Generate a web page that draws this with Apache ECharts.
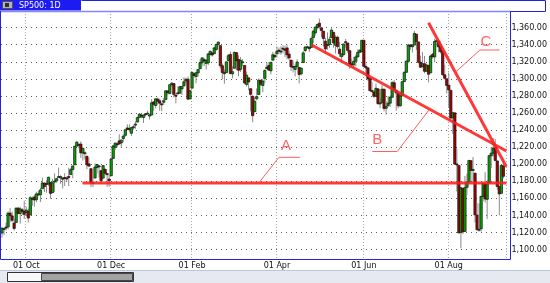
<!DOCTYPE html>
<html><head><meta charset="utf-8">
<script src="https://cdn.jsdelivr.net/npm/echarts@6/dist/echarts.min.js"></script>
<style>html,body{margin:0;padding:0;background:#fff}#c{width:550px;height:283px}</style>
</head><body><div id="c"></div>
<script>
// ---- data (daily bars) ----
const opens = [
1119.4,1123.9,1126.4,1126.6,1142.8,1139.5,1131.1,1131.7,1148.6,1142.3,
1146.7,1145.0,1143.5,1144.9,1140.7,1159.8,1161.6,1158.4,1165.3,1164.3,
1171.3,1177.8,1177.5,1176.8,1178.6,1166.7,1179.8,1180.5,1184.7,1184.0,
1183.8,1184.5,1183.9,1185.7,1187.9,1193.8,1199.3,1221.2,1223.2,1223.6,
1213.1,1213.0,1209.1,1200.4,1194.8,1178.3,1183.8,1196.1,1198.1,1192.5,
1183.7,1194.2,1189.1,1182.6,1186.6,1206.8,1219.9,1223.9,1227.3,1225.0,
1230.1,1233.9,1242.5,1241.8,1236.3,1243.6,1245.8,1249.4,1254.9,1257.5,
1254.7,1259.1,1258.8,1256.8,1257.6,1272.9,1268.8,1276.3,1274.4,1270.8,
1272.6,1275.7,1285.8,1282.9,1293.2,1294.5,1280.9,1283.6,1283.3,1288.2,
1291.9,1297.5,1299.6,1276.5,1289.1,1305.9,1302.8,1307.0,1311.9,1318.8,
1322.5,1318.1,1318.7,1328.7,1330.4,1329.5,1334.4,1340.4,1338.9,1315.4,
1307.3,1307.3,1321.6,1328.6,1305.9,1312.4,1330.7,1322.7,1311.1,1319.9,
1315.7,1293.4,1301.2,1288.5,1279.5,1261.6,1276.7,1281.7,1298.3,1292.2,
1300.6,1311.8,1315.5,1309.4,1321.9,1327.4,1329.5,1333.6,1332.0,1335.9,
1334.8,1336.2,1329.0,1322.0,1314.0,1311.1,1314.5,1313.4,1306.0,1319.1,
1333.2,1337.4,1337.1,1336.8,1348.4,1353.9,1360.1,1365.2,1359.8,1355.9,
1344.2,1340.2,1340.2,1348.3,1354.5,1339.4,1348.7,1334.8,1326.1,1328.5,
1342.4,1342.0,1333.1,1317.7,1316.4,1320.6,1325.7,1331.1,1331.7,1345.2,
1314.6,1312.9,1300.3,1286.3,1284.6,1279.6,1288.3,1271.3,1272.2,1287.9,
1265.5,1268.6,1271.5,1278.4,1295.5,1286.6,1283.0,1268.4,1280.2,1296.9,
1307.6,1320.6,1339.6,1337.6,1339.6,1352.4,1343.3,1319.6,1314.5,1317.7,
1308.9,1315.9,1307.1,1328.7,1325.7,1343.8,1344.3,1337.4,1331.9,1304.8,
1300.1,1292.6,1286.6,1254.3,1260.2,1200.3,1198.5,1120.2,1171.8,1121.3,
1172.9,1178.9,1204.2,1192.9,1189.6,1140.5,1123.6,1124.4,1162.2,1176.7,
1158.9,1177.9,1209.8,1213.0,1219.1,1203.9,1174.0,1165.9,1198.0
];
const closes = [
1125.1,1124.7,1125.6,1142.7,1139.8,1134.3,1124.8,1148.7,1142.2,1147.7,
1144.7,1141.2,1146.2,1137.0,1160.8,1160.0,1158.1,1165.2,1165.3,1169.8,
1178.1,1173.8,1176.2,1184.7,1165.9,1178.2,1180.3,1183.1,1185.6,1185.6,
1182.5,1183.8,1183.3,1184.4,1193.6,1198.0,1221.1,1225.9,1223.3,1213.4,
1218.7,1213.5,1199.2,1197.8,1178.3,1178.6,1196.7,1199.7,1197.8,1180.7,
1198.4,1189.4,1187.8,1180.6,1206.1,1221.5,1224.7,1223.1,1223.8,1228.3,
1233.0,1240.4,1240.5,1241.6,1242.9,1243.9,1247.1,1254.6,1258.8,1256.8,
1257.5,1258.5,1259.8,1257.6,1271.9,1270.2,1276.6,1273.9,1271.5,1269.8,
1274.5,1286.0,1283.8,1293.2,1295.0,1281.9,1280.3,1283.4,1290.8,1291.2,
1296.6,1299.5,1276.3,1286.1,1307.6,1304.0,1307.1,1310.9,1319.0,1324.6,
1320.9,1321.9,1329.2,1332.3,1328.0,1336.3,1340.4,1343.0,1315.4,1307.4,
1306.1,1319.9,1327.2,1306.3,1308.4,1331.0,1321.2,1310.1,1321.8,1320.0,
1295.1,1304.3,1296.4,1281.9,1256.9,1273.7,1279.2,1298.4,1293.8,1297.5,
1309.7,1313.8,1310.2,1319.4,1328.3,1325.8,1332.4,1332.9,1332.6,1335.5,
1333.5,1328.2,1324.5,1314.2,1314.5,1314.5,1319.7,1305.1,1312.6,1330.4,
1337.4,1337.6,1335.3,1347.2,1355.7,1360.5,1363.6,1361.2,1356.6,1347.3,
1335.1,1340.2,1346.3,1357.2,1342.1,1348.7,1337.8,1329.5,1329.0,1340.7,
1343.6,1333.3,1317.4,1316.3,1320.5,1325.7,1331.1,1333.5,1345.2,1314.6,
1312.9,1300.2,1286.2,1284.9,1279.6,1289.0,1271.0,1271.8,1287.9,1265.4,
1267.6,1271.5,1278.4,1295.5,1287.1,1283.5,1268.5,1280.1,1296.7,1307.4,
1320.6,1339.7,1337.9,1339.2,1353.2,1343.8,1319.5,1313.6,1317.7,1308.9,
1316.1,1305.4,1326.7,1325.8,1343.8,1345.0,1337.4,1331.9,1304.9,1300.7,
1292.3,1287.0,1254.0,1260.3,1200.1,1199.4,1119.5,1172.5,1120.8,1172.6,
1178.8,1204.5,1192.8,1193.9,1140.7,1123.5,1123.8,1162.4,1177.6,1159.3,
1176.8,1210.1,1212.9,1218.9,1204.4,1174.0,1165.2,1198.6,1185.9
];
const lows = [
1113.9,1117.0,1122.3,1123.9,1131.9,1131.9,1122.4,1131.7,1142.1,1130.5,
1140.8,1136.2,1139.2,1131.9,1140.7,1151.4,1150.3,1155.6,1162.6,1155.7,
1171.3,1167.5,1166.7,1174.9,1159.7,1166.7,1167.7,1178.3,1184.7,1177.1,
1171.7,1174.5,1179.7,1174.5,1187.9,1183.6,1199.3,1221.2,1218.4,1207.4,
1204.3,1205.7,1194.1,1197.2,1173.0,1173.2,1183.8,1189.0,1184.5,1176.9,
1183.7,1186.9,1173.6,1173.6,1186.6,1206.8,1216.8,1220.0,1223.0,1219.5,
1225.7,1232.3,1240.3,1238.0,1232.9,1240.5,1241.5,1249.4,1254.0,1253.9,
1248.3,1256.2,1258.8,1252.3,1257.6,1262.7,1265.4,1270.0,1262.7,1262.2,
1269.6,1275.7,1280.6,1282.0,1290.3,1278.2,1271.3,1282.1,1282.9,1281.1,
1291.0,1294.3,1275.0,1276.5,1289.1,1301.1,1294.8,1302.6,1311.9,1314.6,
1314.8,1311.0,1316.1,1326.9,1326.0,1329.5,1333.0,1338.6,1312.3,1299.6,
1294.3,1307.3,1320.6,1305.4,1300.6,1312.4,1310.2,1303.0,1308.0,1314.9,
1294.3,1291.0,1286.6,1261.9,1249.1,1261.6,1274.8,1281.7,1291.8,1284.3,
1295.0,1311.8,1310.2,1305.3,1321.9,1325.0,1325.0,1328.8,1328.1,1330.0,
1325.4,1322.9,1321.9,1309.2,1307.6,1302.9,1313.0,1294.7,1304.0,1319.1,
1331.1,1336.0,1331.5,1336.8,1341.7,1351.0,1358.0,1358.6,1348.9,1337.9,
1329.2,1334.1,1336.4,1348.3,1336.4,1329.7,1335.3,1325.9,1318.5,1326.6,
1336.5,1330.7,1311.8,1313.6,1313.1,1314.5,1325.7,1330.2,1331.7,1313.7,
1305.6,1297.9,1286.0,1284.9,1277.6,1279.6,1269.6,1265.6,1272.2,1261.9,
1258.1,1267.1,1267.4,1278.4,1286.8,1262.7,1265.6,1267.4,1280.2,1296.9,
1307.6,1318.5,1334.0,1330.9,1339.6,1333.9,1318.1,1312.6,1313.4,1306.5,
1308.9,1295.9,1307.1,1323.7,1319.4,1338.0,1331.1,1329.6,1303.6,1299.0,
1282.9,1266.5,1254.0,1235.5,1199.5,1168.1,1119.3,1101.5,1118.0,1121.3,
1164.1,1178.9,1180.5,1178.6,1131.6,1122.0,1121.1,1121.2,1156.6,1155.1,
1135.9,1177.9,1195.7,1209.4,1203.9,1170.2,1140.1,1165.9,1183.3
];
const highs = [
1126.4,1125.4,1131.5,1144.9,1148.6,1144.4,1136.1,1148.9,1149.9,1150.3,
1148.6,1157.2,1150.3,1148.2,1162.8,1162.3,1163.9,1167.7,1168.7,1172.6,
1184.4,1178.9,1181.2,1185.5,1178.6,1182.9,1189.4,1183.9,1196.1,1187.1,
1183.8,1189.5,1185.6,1195.8,1195.9,1198.3,1221.3,1227.1,1224.6,1226.8,
1218.8,1215.5,1210.5,1207.4,1194.8,1183.6,1200.9,1199.7,1198.7,1192.5,
1198.6,1194.2,1189.1,1187.4,1207.6,1221.9,1225.6,1225.7,1235.1,1228.9,
1234.7,1240.4,1246.7,1246.6,1243.8,1245.8,1250.2,1255.8,1259.4,1258.6,
1258.4,1259.9,1262.6,1259.3,1276.2,1274.1,1277.6,1278.2,1276.8,1271.5,
1277.6,1286.8,1286.7,1293.2,1296.1,1294.6,1283.4,1291.2,1291.9,1291.3,
1302.0,1301.3,1302.7,1287.2,1308.4,1307.6,1308.6,1311.0,1322.9,1324.9,
1324.8,1322.8,1330.8,1332.9,1330.4,1337.6,1341.0,1344.1,1338.9,1317.9,
1310.9,1320.6,1329.4,1332.1,1314.6,1332.0,1331.1,1327.7,1325.7,1323.2,
1315.7,1308.4,1301.2,1288.5,1280.9,1278.9,1288.9,1300.6,1298.3,1300.1,
1311.3,1319.2,1319.7,1319.5,1331.7,1329.8,1337.9,1336.7,1338.2,1339.4,
1338.8,1339.5,1333.2,1322.0,1321.4,1316.8,1322.9,1313.4,1312.7,1332.7,
1337.5,1339.0,1337.1,1349.6,1357.5,1361.7,1364.6,1370.6,1360.8,1355.9,
1348.0,1354.4,1349.4,1359.4,1354.6,1351.1,1350.5,1343.3,1330.4,1341.8,
1346.8,1342.0,1333.1,1323.7,1325.9,1328.5,1334.6,1335.0,1345.2,1345.2,
1318.0,1312.9,1300.3,1296.2,1287.0,1294.5,1288.3,1277.0,1292.5,1287.9,
1274.1,1279.8,1280.4,1297.6,1298.6,1286.8,1283.9,1284.9,1296.8,1309.2,
1322.0,1341.0,1340.9,1340.9,1356.5,1352.4,1343.3,1327.2,1331.5,1326.9,
1317.7,1315.9,1328.1,1330.4,1347.0,1346.1,1344.3,1338.5,1331.9,1316.3,
1300.1,1307.4,1286.6,1261.2,1260.2,1218.3,1198.5,1172.9,1171.8,1186.3,
1189.0,1204.5,1204.2,1208.5,1189.6,1154.5,1154.1,1162.4,1178.6,1190.7,
1181.2,1210.1,1220.1,1230.7,1229.3,1203.9,1174.0,1198.6,1204.2
];
// x-axis tick labels (bar index of the first bar of the month)
const tickIndex = [12, 54, 94, 136, 179, 221];
const tickLabels = ['01 Oct', '01 Dec', '01 Feb', '01 Apr', '01 Jun', '01 Aug'];
const categoryCount = 250;
const categories = Array.from({length: categoryCount}, (_, i) => 'bar' + i);
const titleText = 'SP500: 1D';
// hand-drawn trend lines, in [bar index, price]
const lineA = [[39.8, 1178], [249.5, 1178]];
const lineB = [[153.2, 1339.7], [249.5, 1215.5]];
const lineC = [[211.0, 1365.8], [249.5, 1197]];
const leaderA = [[127.5, 1179.5], [137.0, 1208.1], [147.5, 1208.1]];
const leaderB = [[183.2, 1214.9], [195.5, 1214.9], [211.2, 1263.5]];
const leaderC = [[224.6, 1308.4], [236.4, 1333.8], [246.1, 1333.8]];
const labelPoints = [['A', 140.5, 1222], ['B', 185.6, 1228.4], ['C', 239.4, 1343.5]];

// ---- chart ----
const fmt = v => Number(v).toFixed(2).replace(/\B(?=(\d{3})+(?!\d))/g, ',');
const ohlc = closes.map((c, i) => [i, opens[i], c, lows[i], highs[i]]);
const isTick = i => tickIndex.indexOf(i) >= 0;
const FONT = 'DejaVu Sans';
const chart = echarts.init(document.getElementById('c'), null, {renderer: 'canvas'});

const thick = {color: '#ff1e1e', width: 3, opacity: 0.88};
const thin = {color: '#ff5555', width: 1, opacity: 0.95};
function lineSeries(data, style, extra) {
  return Object.assign({
    type: 'line', xAxisIndex: 1, yAxisIndex: 0, data: data,
    symbol: 'none', showSymbol: false, lineStyle: style, silent: true, z: 4, animation: false
  }, extra || {});
}

const option = {
  animation: false,
  backgroundColor: '#ffffff',
  grid: {left: 1, right: 40, top: 11, bottom: 24, containLabel: false},
  xAxis: [{
    type: 'category', data: categories, boundaryGap: true,
    axisLine: {show: false}, axisTick: {show: false},
    axisLabel: {
      interval: (i) => isTick(i),
      formatter: (v, i) => { const k = tickIndex.indexOf(i); return k >= 0 ? tickLabels[k] : ''; },
      fontFamily: FONT, fontSize: 8, color: '#111', margin: 3
    },
    splitLine: {show: true, interval: (i) => isTick(i), lineStyle: {color: '#a8a8a8', type: [1, 2], width: 1}}
  }, {
    type: 'value', min: -0.5, max: categoryCount - 0.5, show: false
  }],
  yAxis: {
    type: 'value', position: 'right', min: 1089, max: 1379.5, splitNumber: 15,
    axisLine: {show: false}, axisTick: {show: false},
    axisLabel: {
      showMinLabel: false, showMaxLabel: false,
      formatter: v => (Math.abs(v / 20 - Math.round(v / 20)) < 1e-6 && v >= 1100 && v <= 1360) ? fmt(v) : '',
      fontFamily: FONT, fontSize: 8, color: '#111', margin: 5
    },
    splitLine: {show: true, lineStyle: {color: '#5c5c5c', type: [1, 4], width: 1}}
  },
  series: [
    {
      type: 'custom', xAxisIndex: 0, yAxisIndex: 0, data: ohlc, z: 2,
      encode: {x: 0, y: [1, 2, 3, 4]},
      renderItem: function (params, api) {
        const i = api.value(0), o = api.value(1), c = api.value(2), l = api.value(3), h = api.value(4);
        const po = api.coord([i, o]), pc = api.coord([i, c]), pl = api.coord([i, l]), ph = api.coord([i, h]);
        const bw = api.size([1, 0])[0] * 1.15;
        const x = po[0];
        const top = Math.min(po[1], pc[1]), bot = Math.max(po[1], pc[1]);
        return {type: 'group', children: [
          {type: 'line', shape: {x1: x, y1: ph[1], x2: x, y2: pl[1]}, style: {stroke: '#8a8a8a', lineWidth: 1}},
          {type: 'rect', shape: {x: x - bw / 2, y: top, width: bw, height: Math.max(bot - top, 1)},
           style: {fill: c >= o ? '#00a800' : '#a80000', stroke: '#111', lineWidth: 0.7}}
        ]};
      }
    },
    lineSeries(lineA, thick, {
      markLine: {
        silent: true, symbol: ['none', 'none'], animation: false,
        lineStyle: {opacity: 0, width: 0},
        label: {
          show: true, position: 'end', distance: 1,
          formatter: p => fmt(p.value),
          backgroundColor: '#979797', color: '#ffffff', fontFamily: FONT, fontSize: 8,
          padding: [2, 4, 1, 3], borderRadius: 2
        },
        data: [{yAxis: closes[closes.length - 1]}]
      }
    }),
    lineSeries(lineB, thick),
    lineSeries(lineC, thick),
    lineSeries(leaderA, thin),
    lineSeries(leaderB, thin),
    lineSeries(leaderC, thin),
    {
      type: 'scatter', xAxisIndex: 1, yAxisIndex: 0, z: 5, silent: true,
      symbolSize: 1, itemStyle: {color: 'rgba(0,0,0,0)'},
      data: labelPoints.map(d => ({name: d[0], value: [d[1], d[2]]})),
      label: {show: true, position: 'inside', formatter: '{b}', fontFamily: 'Liberation Sans', fontSize: 15, color: '#ff4040'}
    }
  ],
  graphic: [
    // title tab
    {type: 'rect', z: 100, shape: {x: 0, y: 0, width: 81, height: 10.5}, style: {fill: '#1c1cf2'}},
    {type: 'rect', z: 101, shape: {x: 2.5, y: 1.5, width: 10, height: 7}, style: {fill: '#b4b4b4', stroke: '#505050', lineWidth: 1}},
    {type: 'rect', z: 102, shape: {x: 5, y: 3, width: 4, height: 4}, style: {fill: '#303030'}},
    {type: 'text', z: 102, x: 19, y: 5.5, style: {text: titleText, fill: '#ffffff', font: '8px "DejaVu Sans"', textVerticalAlign: 'middle'}},
    {type: 'polyline', z: 100, shape: {points: [[81.5, 0.5], [545.5, 0.5], [545.5, 11.5], [510, 11.5]]}, style: {stroke: '#2020e8', lineWidth: 1, fill: null}},
    // plot frame
    {type: 'line', z: 100, shape: {x1: 0, y1: 11.5, x2: 510, y2: 11.5}, style: {stroke: '#8484ff', lineWidth: 1.5}},
    {type: 'polyline', z: 100, shape: {points: [[0.5, 11], [0.5, 259.5], [510.5, 259.5], [510.5, 11]]}, style: {stroke: '#2626d6', lineWidth: 1, fill: null}},
    // scroll bar strip
    {type: 'rect', z: 100, shape: {x: 0, y: 270, width: 550, height: 13}, style: {fill: '#e6e9ef'}},
    {type: 'line', z: 101, shape: {x1: 0, y1: 270.5, x2: 550, y2: 270.5}, style: {stroke: '#bcc6d8', lineWidth: 1}},
    {type: 'rect', z: 101, shape: {x: 7.5, y: 272.5, width: 126, height: 9}, style: {fill: '#f8f8f8', stroke: '#333', lineWidth: 1}},
    {type: 'rect', z: 102, shape: {x: 41.5, y: 273.5, width: 91, height: 7}, style: {fill: '#a2a2a2', stroke: '#454545', lineWidth: 1}}
  ]
};
chart.setOption(option);
</script>
</body></html>
